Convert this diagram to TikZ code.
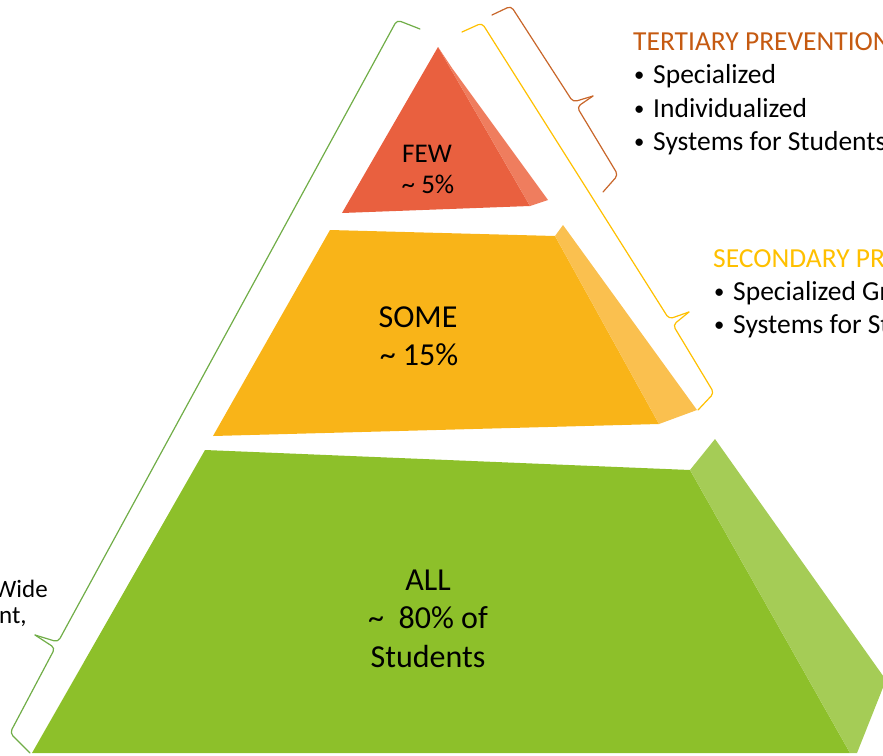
\documentclass[tikz,border=0pt]{standalone}
\usepackage{fontspec}
\setmainfont{Carlito}
\definecolor{redfront}{HTML}{E9603F}
\definecolor{redside}{HTML}{EF7D5E}
\definecolor{yelfront}{HTML}{F9B418}
\definecolor{yelside}{HTML}{FAC04F}
\definecolor{grnfront}{HTML}{8DC02A}
\definecolor{grnside}{HTML}{A5CC56}
\definecolor{tercol}{HTML}{C55A11}
\definecolor{terbrace}{HTML}{C8662A}
\definecolor{seccol}{HTML}{FFC000}
\definecolor{grnbrace}{HTML}{70AD47}
\newcommand{\bulletmark}{\makebox[20pt][l]{\hspace{1pt}\raisebox{1.5pt}{\scalebox{0.75}{•}}}}
\begin{document}
\begin{tikzpicture}[x=1pt,y=-1pt,
  tierlbl/.style={inner sep=0pt, anchor=base, font=\fontsize{32}{38}\selectfont},
  toplbl/.style={inner sep=0pt, anchor=base, font=\fontsize{27}{33}\selectfont},
  sidetxt/.style={inner sep=0pt, anchor=base west, font=\fontsize{27.5}{33}\selectfont},
  lefttxt/.style={inner sep=0pt, anchor=base west, font=\fontsize{25}{27}\selectfont},
  bracepath/.style={line width=1.2pt, rounded corners=4pt, line cap=round, line join=round}]
\useasboundingbox (0,0) rectangle (883,755);
\clip (0,0) rectangle (883,755);

% top tier
\fill[redfront] (438,47) -- (342,213) -- (530,206) -- cycle;
\fill[redside]  (452,68) -- (548,200) -- (530,206) -- (438,47) -- cycle;

% middle tier
\fill[yelfront] (330,230) -- (555,236) -- (659,424) -- (213,436) -- cycle;
\fill[yelside]  (555,236) -- (563,225) -- (697,410) -- (659,424) -- cycle;

% bottom tier
\fill[grnfront] (205,450) -- (690,470) -- (850,753) -- (32,753) -- cycle;
\fill[grnside]  (690,470) -- (715,439) -- (886,680) -- (857,753) -- (850,753) -- cycle;

% tier labels
\node[toplbl]  (few)   at (427,162) {FEW};
\node[toplbl]  (fewp)  at (428,193) {\textasciitilde\ 5\%};
\node[tierlbl] (some)  at (418,327) {SOME};
\node[tierlbl] (somep) at (419,365) {\textasciitilde\ 15\%};
\node[tierlbl] (all)   at (428,590) {ALL};
\node[tierlbl] (allp)  at (428,628) {\textasciitilde\ \ 80\% of};
\node[tierlbl] (allst) at (428,667) {Students};

% braces
\coordinate (ot1) at (492,15);   \coordinate (ot2) at (511,6);
\coordinate (om1) at (573,102);  \coordinate (otip) at (593,96);
\coordinate (om2) at (577,107);  \coordinate (ob1) at (618,175);
\coordinate (ob2) at (603,192);
\draw[bracepath, terbrace] (ot1) -- (ot2) -- (om1) -- (otip);
\draw[bracepath, terbrace] (otip) -- (om2) -- (ob1) -- (ob2);

\coordinate (yt1) at (462,32);   \coordinate (yt2) at (482,23);
\coordinate (ym1) at (669,319);  \coordinate (ytip) at (689,312);
\coordinate (ym2) at (673,325);  \coordinate (yb1) at (714,393);
\coordinate (yb2) at (698,410);
\draw[bracepath, seccol] (yt1) -- (yt2) -- (ym1) -- (ytip);
\draw[bracepath, seccol] (ytip) -- (ym2) -- (yb1) -- (yb2);

\coordinate (gt1) at (420,29);   \coordinate (gt2) at (397,20);
\coordinate (gm1) at (58,642);   \coordinate (gtip) at (35,635);
\coordinate (gm2) at (55,648);   \coordinate (gb1) at (10,733);
\coordinate (gb2) at (30,753);
\draw[bracepath, grnbrace] (gt1) -- (gt2) -- (gm1) -- (gtip);
\draw[bracepath, grnbrace] (gtip) -- (gm2) -- (gb1) -- (gb2);

% tertiary text
\node[sidetxt, text=tercol] (terh) at (633,50) {TERTIARY PREVENTION};
\node[sidetxt] (ter1) at (633,83)  {\bulletmark Specialized};
\node[sidetxt] (ter2) at (633,117) {\bulletmark Individualized};
\node[sidetxt] (ter3) at (633,150) {\bulletmark Systems for Students};

% secondary text
\node[sidetxt, text=seccol] (sech) at (713,267) {SECONDARY PREVENTION};
\node[sidetxt] (sec1) at (713,300) {\bulletmark Specialized Group};
\node[sidetxt] (sec2) at (713,333) {\bulletmark Systems for Students};

% primary text
\node[lefttxt] (pri1) at (-6,597) {Wide};
\node[lefttxt] (pri2) at (-1,623) {nt,};
\end{tikzpicture}
\end{document}
